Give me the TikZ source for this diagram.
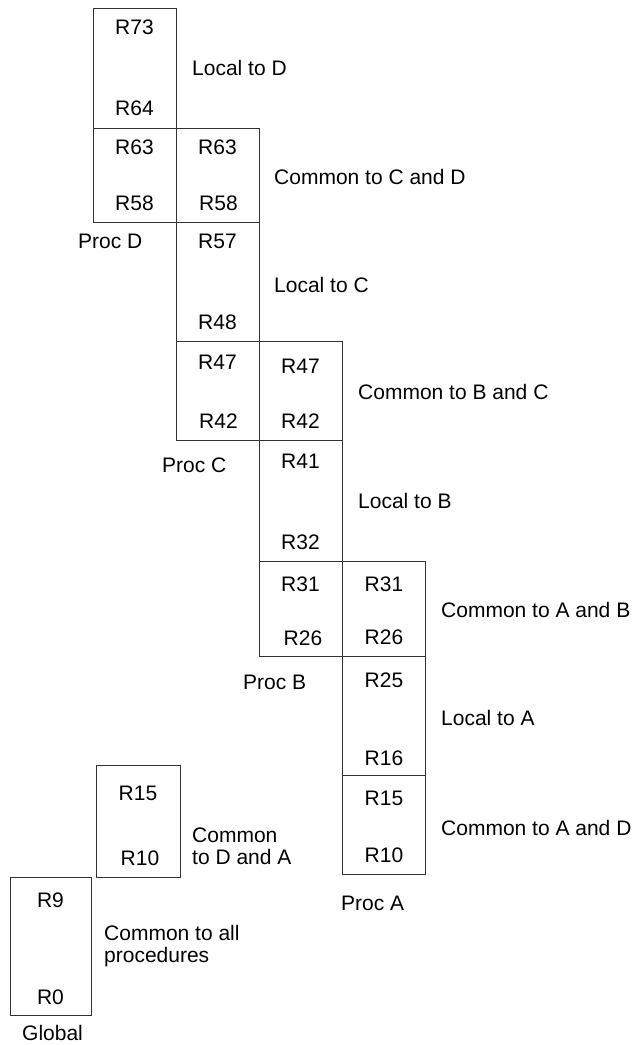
\documentclass[tikz,border=0pt]{standalone}
\usepackage{fontspec}
\setmainfont{Liberation Sans}
\begin{document}
\begin{tikzpicture}[x=1pt,y=-1pt,
  regbox/.style={draw=black!80, line width=0.9pt, anchor=north west, inner sep=0pt, minimum width=83pt},
  txt/.style={inner sep=0pt, font=\fontsize{21}{25}\selectfont, text height=15pt, text depth=0pt},
  rl/.style={txt, anchor=center},
  side/.style={txt, anchor=west},
]
\useasboundingbox (0,0) rectangle (636,1045);
% Proc D
\node[regbox, minimum height=120pt] (d1) at (93,8) {};
\node[regbox, minimum height=94pt] (d2) at (93,128) {};
% Proc C
\node[regbox, minimum height=94pt] (c1) at (176,128) {};
\node[regbox, minimum height=119pt] (c2) at (176,222) {};
\node[regbox, minimum height=99pt] (c3) at (176,341) {};
% Proc B
\node[regbox, minimum height=99pt] (b1) at (259,341) {};
\node[regbox, minimum height=121pt] (b2) at (259,440) {};
\node[regbox, minimum height=95pt] (b3) at (259,561) {};
% Proc A
\node[regbox, minimum height=95pt] (a1) at (342,561) {};
\node[regbox, minimum height=119pt] (a2) at (342,656) {};
\node[regbox, minimum height=99pt] (a3) at (342,775) {};
% D and A
\node[regbox, minimum width=84pt, minimum height=112pt] (da) at (96,765) {};
% Global
\node[regbox, minimum width=81pt, minimum height=138pt] (g) at (10,877) {};

% register labels
\node[rl] (d1t) at (134.5,27) {R73};
\node[rl] (d1b) at (134.5,108) {R64};
\node[rl] (d2t) at (134.5,147) {R63};
\node[rl] (d2b) at (134.5,203) {R58};
\node[rl] (c1t) at (217.5,147) {R63};
\node[rl] (c1b) at (218.5,203) {R58};
\node[rl] (c2t) at (217.5,241) {R57};
\node[rl] (c2b) at (217.5,322) {R48};
\node[rl] (c3t) at (217.5,362) {R47};
\node[rl] (c3b) at (218.5,421) {R42};
\node[rl] (b1t) at (300.5,366) {R47};
\node[rl] (b1b) at (300.5,421) {R42};
\node[rl] (b2t) at (300.5,461) {R41};
\node[rl] (b2b) at (300.5,542) {R32};
\node[rl] (b3t) at (300.5,584) {R31};
\node[rl] (b3b) at (303,638) {R26};
\node[rl] (a1t) at (384,584) {R31};
\node[rl] (a1b) at (384,637) {R26};
\node[rl] (a2t) at (384,680) {R25};
\node[rl] (a2b) at (384,758) {R16};
\node[rl] (a3t) at (384,798) {R15};
\node[rl] (a3b) at (384,855) {R10};
\node[rl] (dat) at (138,793) {R15};
\node[rl] (dab) at (140,858) {R10};
\node[rl] (gt) at (50.5,900) {R9};
\node[rl] (gb) at (50.5,997) {R0};

% side labels
\node[side] (ld) at (192,68) {Local to D};
\node[side] (ccd) at (274,177) {Common to C and D};
\node[side] (lc) at (274,285) {Local to C};
\node[side] (cbc) at (358,392) {Common to B and C};
\node[side] (lb) at (358,501) {Local to B};
\node[side] (cab) at (441,610) {Common to A and B};
\node[side] (la) at (441,718) {Local to A};
\node[side] (cad) at (441,828) {Common to A and D};
\node[side] (cda1) at (192,835) {Common};
\node[side] (cda2) at (192,857) {to D and A};
\node[side] (call1) at (104,933) {Common to all};
\node[side] (call2) at (104,955) {procedures};

% procedure names
\node[side] (pd) at (78,241) {Proc D};
\node[side] (pc) at (162,465) {Proc C};
\node[side] (pb) at (243,682) {Proc B};
\node[side] (pa) at (341,903) {Proc A};
\node[side] (pg) at (22,1033) {Global};
\end{tikzpicture}
\end{document}
